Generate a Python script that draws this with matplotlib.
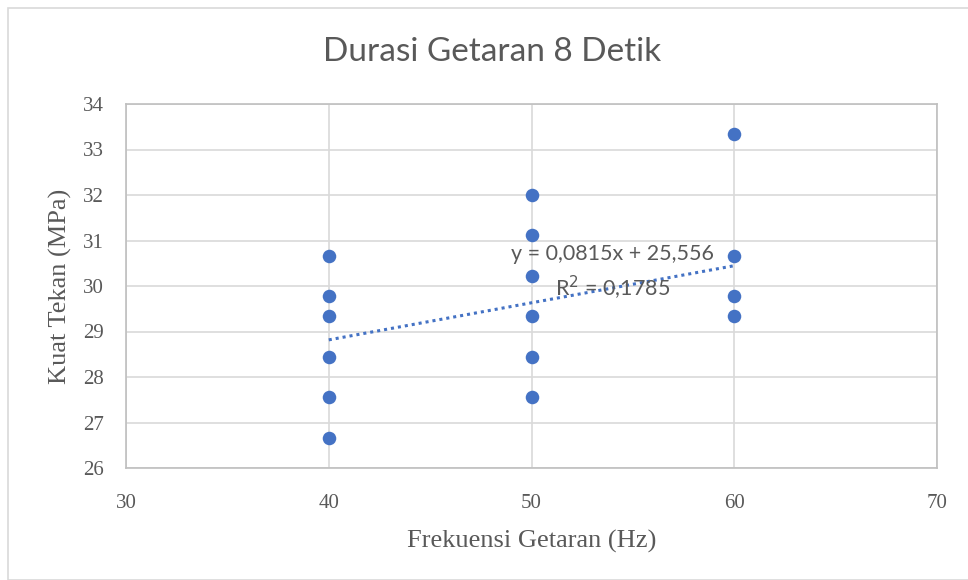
import numpy as np
import matplotlib
matplotlib.use("Agg")
import matplotlib.pyplot as plt
from matplotlib.patches import Rectangle

# data
freq_40 = [40] * 6
kuat_40 = [30.67, 29.78, 29.33, 28.44, 27.56, 26.67]
freq_50 = [50] * 6
kuat_50 = [32.00, 31.11, 30.22, 29.33, 28.44, 27.56]
freq_60 = [60] * 4
kuat_60 = [33.33, 30.67, 29.78, 29.33]

slope, intercept = 0.0815, 25.556
eq_text = "y = 0,0815x + 25,556\nR$^2$ = 0,1785"

x_ticks = [30, 40, 50, 60, 70]
y_ticks = [26, 27, 28, 29, 30, 31, 32, 33, 34]

BLUE = "#4472C4"
GRID = "#D9D9D9"
TXT = "#595959"

x = np.array(freq_40 + freq_50 + freq_60)
y = np.array(kuat_40 + kuat_50 + kuat_60)

fig = plt.figure(figsize=(9.68, 5.8), dpi=100)
fig.patches.append(Rectangle((8 / 968, 0), 1, 1 - 8 / 580, transform=fig.transFigure,
                             fill=False, edgecolor="#D9D9D9", linewidth=1.2))
ax = fig.add_axes([126 / 968, 1 - 468 / 580, (937 - 126) / 968, (468 - 104) / 580])

ax.grid(True, color=GRID, linewidth=1.2)
ax.set_axisbelow(True)
for s in ax.spines.values():
    s.set_color("#BFBFBF")
    s.set_linewidth(1.2)

tx = np.array([x.min(), x.max()])
ax.plot(tx, slope * tx + intercept, linestyle=(0, (1, 1.3)), color=BLUE, linewidth=2.2, zorder=3)
ax.scatter(x, y, s=95, color=BLUE, zorder=4, linewidths=0)

ax.set_xlim(30, 70)
ax.set_ylim(26, 34)
ax.set_xticks(x_ticks)
ax.set_yticks(y_ticks)
ax.tick_params(length=0, labelsize=15, labelcolor=TXT)
ax.tick_params(axis="x", pad=19)
ax.tick_params(axis="y", pad=16)
for lab in ax.get_xticklabels() + ax.get_yticklabels():
    lab.set_family("Liberation Serif")

ax.set_xlabel("Frekuensi Getaran (Hz)", family="Liberation Serif", fontsize=19,
              color=TXT, labelpad=12)
ax.set_ylabel("Kuat Tekan (MPa)", family="Liberation Serif", fontsize=19,
              color=TXT, labelpad=8)

ax.text(54.0, 30.28, eq_text, family="Lato", fontsize=15.5, color=TXT,
        ha="center", va="center", linespacing=1.45, zorder=5)

fig.text(492 / 968, 1 - 52 / 580, "Durasi Getaran 8 Detik", family="Lato",
         fontsize=24, color=TXT, ha="center", va="center")

fig.savefig("out.png", dpi=100)
